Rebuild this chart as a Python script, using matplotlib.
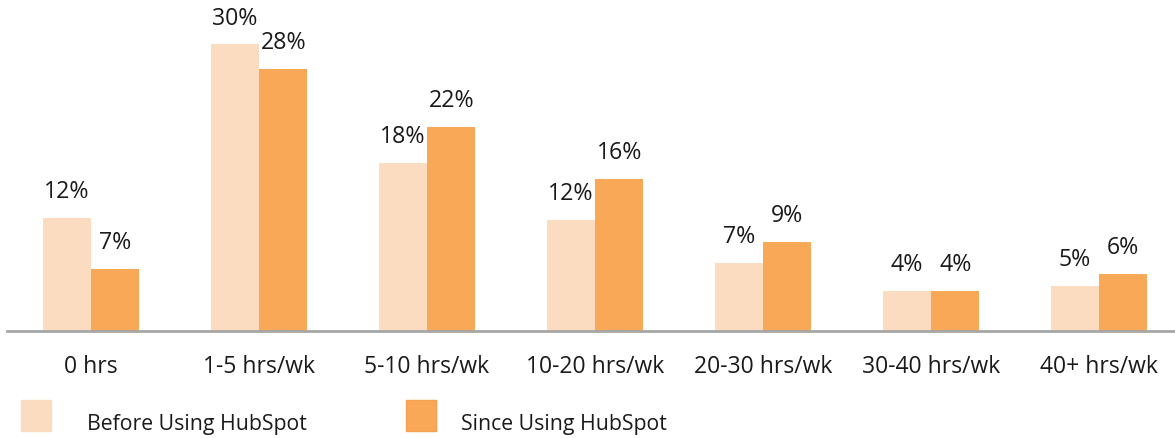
import matplotlib.pyplot as plt
import numpy as np
from matplotlib.patches import Rectangle

plt.rcParams['font.family'] = ['Open Sans', 'DejaVu Sans']

categories = ['0 hrs', '1-5 hrs/wk', '5-10 hrs/wk', '10-20 hrs/wk',
              '20-30 hrs/wk', '30-40 hrs/wk', '40+ hrs/wk']
before = [11.96, 30.3, 17.8, 11.7, 7.2, 4.2, 4.8]
since = [6.6, 27.7, 21.6, 16.1, 9.4, 4.2, 6.0]
before_labels = ['12%', '30%', '18%', '12%', '7%', '4%', '5%']
since_labels = ['7%', '28%', '22%', '16%', '9%', '4%', '6%']
series_names = ['Before Using HubSpot', 'Since Using HubSpot']

light = '#FBDCC1'
orange = '#F9A858'
txt = '#1a1a1a'
W, H = 1175, 438

fig = plt.figure(figsize=(W / 100, H / 100), dpi=100)
ax = fig.add_axes([7 / W, 107 / H, 1 - 7 / W, 331 / H])

x = np.arange(len(categories))
w = 0.288
b1 = ax.bar(x - w / 2, before, w, color=light)
b2 = ax.bar(x + w / 2, since, w, color=orange)
ax.bar_label(b1, labels=before_labels, padding=10, fontsize=16.7, color=txt)
ax.bar_label(b2, labels=since_labels, padding=10, fontsize=16.7, color=txt)

ax.set_xlim(-0.5, (W - 91) / 168)
ax.set_ylim(0, 35.0)
ax.set_xticks(x)
ax.set_xticklabels(categories, fontsize=16.5, color=txt)
ax.tick_params(axis='x', length=0, pad=17.5)
ax.set_yticks([])
for s in ['top', 'left', 'right']:
    ax.spines[s].set_visible(False)
ax.spines['bottom'].set_color('#a6a6a6')
ax.spines['bottom'].set_linewidth(2)

# legend drawn by hand at the bottom
for (sx, tx), col, edge, name in zip([(21, 87), (406, 461)], [light, orange],
                                     [light, '#f4a04f'], series_names):
    fig.add_artist(Rectangle((sx / W, (H - 431) / H), 30 / W, 31 / H,
                             transform=fig.transFigure, facecolor=col,
                             edgecolor=edge, linewidth=1))
    fig.text(tx / W, (H - 430) / H, name, fontsize=15.3, color=txt,
             va='baseline', ha='left')

fig.savefig('out.png', dpi=100)
